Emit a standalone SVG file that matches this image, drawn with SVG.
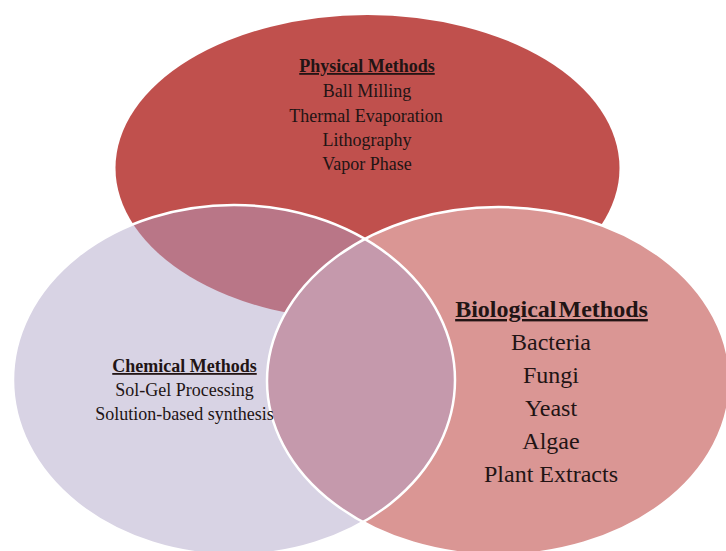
<svg xmlns="http://www.w3.org/2000/svg" width="726" height="551" viewBox="0 0 726 551">
<style>
  .lbl { font-family: "Liberation Serif", "Times New Roman", serif; fill: #221414; text-anchor: middle; }
  .h { font-weight: bold; text-decoration: underline; }
  .edge { fill: none; stroke: #ffffff; stroke-width: 2.5; }
</style>
<defs>
  <clipPath id="clipRed"><ellipse cx="367.5" cy="168" rx="252" ry="153"/></clipPath>
  <clipPath id="clipBio"><ellipse cx="498.5" cy="381" rx="231.5" ry="174"/></clipPath>
</defs>
<rect width="726" height="551" fill="#ffffff"/>
<g id="physical">
  <ellipse cx="367.5" cy="168" rx="252" ry="153" fill="#C0504D"/>
</g>
<g id="biological">
  <ellipse cx="498.5" cy="381" rx="231.5" ry="174" fill="#DA9694"/>
</g>
<g id="chemical">
  <ellipse cx="234" cy="380" rx="221" ry="175" fill="#D8D3E4"/>
</g>
<g id="overlaps">
  <ellipse cx="234" cy="380" rx="221" ry="175" fill="#B97687" clip-path="url(#clipRed)"/>
  <ellipse cx="234" cy="380" rx="221" ry="175" fill="#C599AC" clip-path="url(#clipBio)"/>
</g>
<g id="outlines">
  <ellipse class="edge" cx="498.5" cy="381" rx="231.5" ry="174"/>
  <ellipse class="edge" cx="234" cy="380" rx="221" ry="175"/>
</g>
<g id="physical-label" class="lbl" font-size="18">
  <text x="367" y="72" class="h">Physical Methods</text>
  <text x="367" y="97">Ball Milling</text>
  <text x="366" y="122">Thermal Evaporation</text>
  <text x="367" y="146">Lithography</text>
  <text x="367" y="170">Vapor Phase</text>
</g>
<g id="chemical-label" class="lbl" font-size="18">
  <text x="184.5" y="372" class="h">Chemical Methods</text>
  <text x="184.5" y="396">Sol-Gel Processing</text>
  <text x="184.5" y="420">Solution-based synthesis</text>
</g>
<g id="biological-label" class="lbl" font-size="24">
  <text x="551.5" y="317" class="h" word-spacing="-4">Biological Methods</text>
  <text x="551" y="350">Bacteria</text>
  <text x="551" y="383">Fungi</text>
  <text x="551" y="416">Yeast</text>
  <text x="551" y="449">Algae</text>
  <text x="551" y="482">Plant Extracts</text>
</g>
</svg>
